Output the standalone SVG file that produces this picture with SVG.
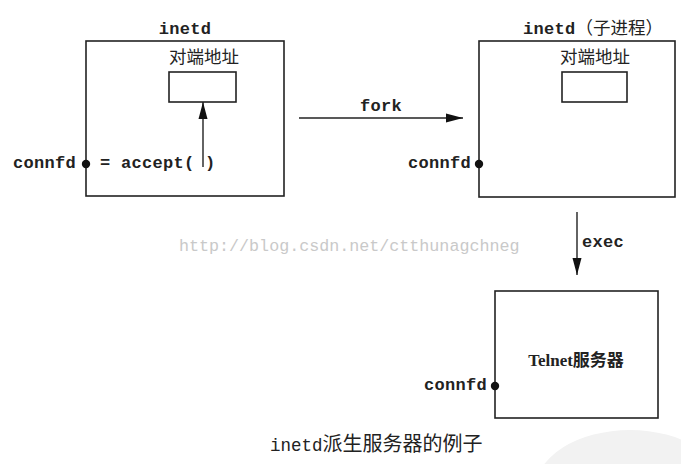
<svg xmlns="http://www.w3.org/2000/svg" width="681" height="464" viewBox="0 0 681 464">
<style>
.box{fill:none;stroke:#222;stroke-width:1.6}
.mono{font-family:"Liberation Mono","Courier New",monospace;font-weight:bold;font-size:17px;letter-spacing:0.3px;fill:#222}
.cjk{font-family:"Noto Sans CJK SC",sans-serif;font-size:17.5px;fill:#222}
.line{stroke:#222;stroke-width:1.4;fill:none}
.dot{fill:#111}
</style>
<defs>
<marker id="ah" markerUnits="userSpaceOnUse" markerWidth="18" markerHeight="10" refX="17" refY="5" orient="auto">
<path d="M0,0.5 L17,5 L0,9.5 z" fill="#111"/>
</marker>
</defs>
<rect width="681" height="464" fill="#fff"/>
<ellipse cx="630" cy="490" rx="95" ry="60" fill="#f2f2f2"/>
<text x="179" y="251" font-family="Liberation Mono,monospace" font-size="16.7" fill="#c9c9c9">http://blog.csdn.net/ctthunagchneg</text>

<g id="inetd">
<text class="mono" x="185" y="34" text-anchor="middle">inetd</text>
<rect class="box" x="86" y="41" width="198" height="155"/>
<text class="cjk" x="204" y="63" text-anchor="middle">对端地址</text>
<rect class="box" x="169" y="72" width="67" height="30"/>
<text class="mono" x="13" y="168">connfd</text>
<circle class="dot" cx="86" cy="164" r="4.2"/>
<text class="mono" x="100" y="168">= accept( )</text>
</g>

<g id="inetd-child">
<text x="523" y="34"><tspan class="mono">inetd</tspan><tspan class="cjk">（子进程）</tspan></text>
<rect class="box" x="479" y="41" width="196" height="156"/>
<text class="cjk" x="595" y="63" text-anchor="middle">对端地址</text>
<rect class="box" x="562" y="72" width="65" height="30"/>
<text class="mono" x="471" y="168" text-anchor="end">connfd</text>
<circle class="dot" cx="479" cy="164" r="4.2"/>
</g>

<g id="telnet">
<rect class="box" x="495" y="291" width="163" height="127"/>
<text x="576" y="366" text-anchor="middle" font-family="Liberation Serif,'Noto Sans CJK SC',serif" font-weight="bold" font-size="17" fill="#222">Telnet服务器</text>
<text class="mono" x="487" y="390" text-anchor="end">connfd</text>
<circle class="dot" cx="495" cy="386" r="4.2"/>
</g>

<g id="connectors">
<line class="line" x1="203" y1="167" x2="203" y2="102" marker-end="url(#ah)"/>
<line class="line" x1="299" y1="118" x2="463" y2="118" marker-end="url(#ah)"/>
<text class="mono" x="381" y="111" text-anchor="middle">fork</text>
<line class="line" x1="577" y1="212" x2="577" y2="275" marker-end="url(#ah)"/>
<text class="mono" x="582" y="247">exec</text>
</g>

<text x="270" y="451" fill="#222"><tspan font-family="Liberation Mono,monospace" font-size="17.5">inetd</tspan><tspan font-family="Noto Sans CJK SC,sans-serif" font-size="20">派生服务器的例子</tspan></text>
</svg>
